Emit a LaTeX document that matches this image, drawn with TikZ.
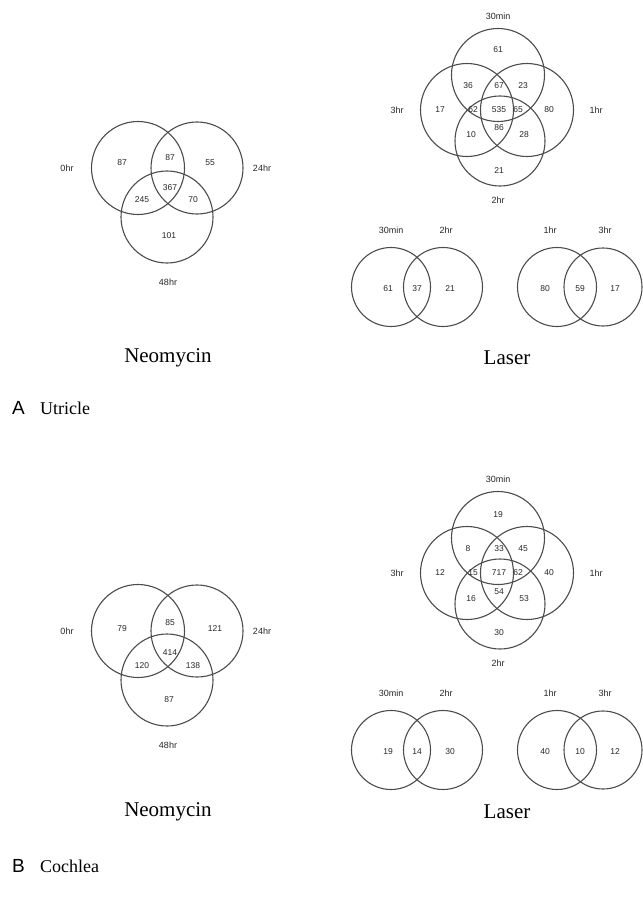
\documentclass[tikz,border=0pt]{standalone}
\usepackage{fontspec}
\setmainfont{Liberation Serif}
\newfontfamily\labelfont{Liberation Sans}
\usetikzlibrary{positioning}

\tikzset{
  venn/.style={draw=black!70, line width=1.1pt},
  num/.style={font=\labelfont\fontsize{8.5}{10}\selectfont, text=black!85, inner sep=0pt},
  cond/.style={font=\labelfont\fontsize{9}{10}\selectfont, text=black!85, inner sep=0pt},
  treat/.style={font=\fontsize{21}{24}\selectfont, inner sep=0pt},
  tissue/.style={font=\fontsize{18}{20}\selectfont, inner sep=0pt, anchor=base west},
  letter/.style={font=\labelfont\fontsize{19}{20}\selectfont, inner sep=0pt, anchor=base west}
}

\begin{document}
\begin{tikzpicture}[x=1pt, y=-1pt]
  \useasboundingbox (0,0) rectangle (642,904);

  % ---- A: Utricle ----
  % Neomycin, 3 conditions
  \draw[venn] (138,168) circle (46.5);
  \draw[venn] (197,168) circle (46);
  \draw[venn] (167,217) circle (46);
  \node[cond] (ua0hr) at (67,168) {0hr};
  \node[cond] (ua24hr) at (262,168) {24hr};
  \node[cond] (ua48hr) at (168,282) {48hr};
  \node[num] (ua1) at (122,163) {87};
  \node[num] (ua2) at (170,158) {87};
  \node[num] (ua3) at (210,163) {55};
  \node[num] (ua4) at (170,188) {367};
  \node[num] (ua5) at (142,200) {245};
  \node[num] (ua6) at (193,200) {70};
  \node[num] (ua7) at (169,236) {101};
  % Laser, 4 conditions
  \draw[venn] (498,75) circle (46.5);
  \draw[venn] (467,110) circle (46.5);
  \draw[venn] (527,110) circle (46.5);
  \draw[venn] (500,141) circle (45);
  \node[cond] (ul30min) at (498,16) {30min};
  \node[cond] (ul3hr) at (397,110) {3hr};
  \node[cond] (ul1hr) at (596,110) {1hr};
  \node[cond] (ul2hr) at (498,200) {2hr};
  \node[num] (ul1) at (498,50) {61};
  \node[num] (ul2) at (468,86) {36};
  \node[num] (ul3) at (499,86) {67};
  \node[num] (ul4) at (523,86) {23};
  \node[num] (ul5) at (440,110) {17};
  \node[num] (ul6) at (473,110) {62};
  \node[num] (ul7) at (499,110) {535};
  \node[num] (ul8) at (518,110) {65};
  \node[num] (ul9) at (549,110) {80};
  \node[num] (ul10) at (471,135) {10};
  \node[num] (ul11) at (499,128) {86};
  \node[num] (ul12) at (524,135) {28};
  \node[num] (ul13) at (499,171) {21};
  % Laser, pairs
  \draw[venn] (391,287) circle (39.5);
  \draw[venn] (443,287) circle (39.5);
  \node[cond] (up30min) at (391,230) {30min};
  \node[cond] (up2hr) at (446,230) {2hr};
  \node[num] (up1) at (388,289) {61};
  \node[num] (up2) at (417,289) {37};
  \node[num] (up3) at (450,289) {21};
  \draw[venn] (557,287) circle (39.5);
  \draw[venn] (603,287) circle (39);
  \node[cond] (uq1hr) at (550,230) {1hr};
  \node[cond] (uq3hr) at (605,230) {3hr};
  \node[num] (uq1) at (545,289) {80};
  \node[num] (uq2) at (580,289) {59};
  \node[num] (uq3) at (615,289) {17};
  % titles
  \node[treat] (uneo) at (168,358) {Neomycin};
  \node[treat] (ulaser) at (507,358) {Laser};
  \node[letter] (uA) at (12,414) {A};
  \node[tissue] (utitle) at (40,414) {Utricle};

  % ---- B: Cochlea ----
  \begin{scope}[yshift=-463]
    % Neomycin, 3 conditions
    \draw[venn] (138,168) circle (46.5);
    \draw[venn] (197,168) circle (46);
    \draw[venn] (167,217) circle (46);
    \node[cond] (ca0hr) at (67,168) {0hr};
    \node[cond] (ca24hr) at (262,168) {24hr};
    \node[cond] (ca48hr) at (168,282) {48hr};
    \node[num] (ca1) at (122,166) {79};
    \node[num] (ca2) at (170,160) {85};
    \node[num] (ca3) at (215,166) {121};
    \node[num] (ca4) at (170,190) {414};
    \node[num] (ca5) at (142,203) {120};
    \node[num] (ca6) at (193,203) {138};
    \node[num] (ca7) at (169,237) {87};
    % Laser, 4 conditions
    \draw[venn] (498,75) circle (46.5);
    \draw[venn] (467,110) circle (46.5);
    \draw[venn] (527,110) circle (46.5);
    \draw[venn] (500,141) circle (45);
    \node[cond] (cl30min) at (498,16) {30min};
    \node[cond] (cl3hr) at (397,110) {3hr};
    \node[cond] (cl1hr) at (596,110) {1hr};
    \node[cond] (cl2hr) at (498,200) {2hr};
    \node[num] (cl1) at (498,52) {19};
    \node[num] (cl2) at (468,86) {8};
    \node[num] (cl3) at (499,86) {33};
    \node[num] (cl4) at (523,86) {45};
    \node[num] (cl5) at (440,110) {12};
    \node[num] (cl6) at (473,110) {15};
    \node[num] (cl7) at (499,110) {717};
    \node[num] (cl8) at (518,110) {62};
    \node[num] (cl9) at (549,110) {40};
    \node[num] (cl10) at (471,136) {16};
    \node[num] (cl11) at (499,129) {54};
    \node[num] (cl12) at (524,136) {53};
    \node[num] (cl13) at (499,170) {30};
    % Laser, pairs
    \draw[venn] (391,287) circle (39.5);
    \draw[venn] (443,287) circle (39.5);
    \node[cond] (cp30min) at (391,230) {30min};
    \node[cond] (cp2hr) at (446,230) {2hr};
    \node[num] (cp1) at (388,289) {19};
    \node[num] (cp2) at (417,289) {14};
    \node[num] (cp3) at (450,289) {30};
    \draw[venn] (557,287) circle (39.5);
    \draw[venn] (603,287) circle (39);
    \node[cond] (cq1hr) at (550,230) {1hr};
    \node[cond] (cq3hr) at (605,230) {3hr};
    \node[num] (cq1) at (545,289) {40};
    \node[num] (cq2) at (580,289) {10};
    \node[num] (cq3) at (615,289) {12};
  \end{scope}
  % titles
  \node[treat] (cneo) at (168,812) {Neomycin};
  \node[treat] (claser) at (507,812) {Laser};
  \node[letter] (cB) at (12,872) {B};
  \node[tissue] (ctitle) at (40,872) {Cochlea};
\end{tikzpicture}
\end{document}
